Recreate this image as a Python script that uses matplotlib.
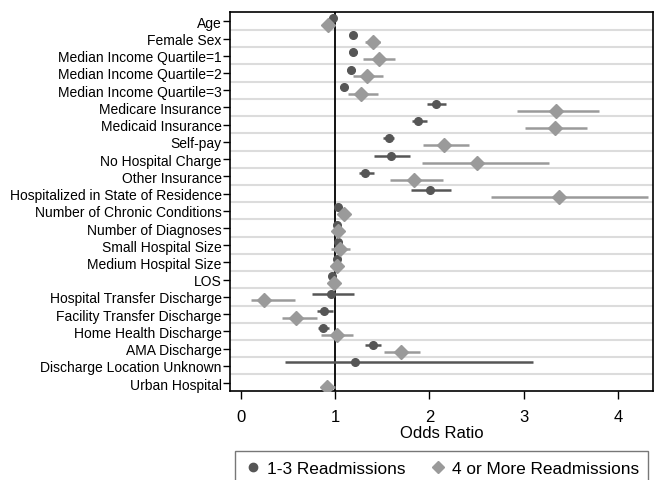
import numpy as np
import matplotlib
matplotlib.use("Agg")
import matplotlib.pyplot as plt
from matplotlib.lines import Line2D

plt.rcParams['font.family'] = ['Liberation Sans', 'DejaVu Sans']

labels = ["Age", "Female Sex", "Median Income Quartile=1", "Median Income Quartile=2",
          "Median Income Quartile=3", "Medicare Insurance", "Medicaid Insurance", "Self-pay",
          "No Hospital Charge", "Other Insurance", "Hospitalized in State of Residence",
          "Number of Chronic Conditions", "Number of Diagnoses", "Small Hospital Size",
          "Medium Hospital Size", "LOS", "Hospital Transfer Discharge",
          "Facility Transfer Discharge", "Home Health Discharge", "AMA Discharge",
          "Discharge Location Unknown", "Urban Hospital"]

# 1-3 readmissions: odds ratio and 95% CI
or_low = [0.975, 1.19, 1.19, 1.17, 1.09, 2.07, 1.88, 1.57, 1.59, 1.32, 2.01,
          1.035, 1.02, 1.035, 1.02, 0.97, 0.96, 0.88, 0.87, 1.40, 1.21, np.nan]
lo_low = [0.96, 1.16, 1.15, 1.13, 1.05, 1.98, 1.82, 1.51, 1.41, 1.25, 1.81,
          1.02, 1.01, 1.00, 1.00, 0.96, 0.75, 0.81, 0.82, 1.32, 0.47, np.nan]
hi_low = [0.99, 1.22, 1.23, 1.21, 1.13, 2.18, 1.98, 1.63, 1.80, 1.41, 2.23,
          1.05, 1.03, 1.07, 1.04, 0.98, 1.20, 0.98, 0.94, 1.49, 3.10, np.nan]

# 4 or more readmissions
or_high = [0.92, 1.40, 1.47, 1.34, 1.27, 3.34, 3.33, 2.16, 2.51, 1.84, 3.38,
           1.09, 1.035, 1.05, 1.02, 0.99, 0.25, 0.59, 1.02, 1.70, np.nan, 0.91]
lo_high = [0.89, 1.32, 1.30, 1.19, 1.14, 2.93, 3.01, 1.93, 1.92, 1.58, 2.65,
           1.07, 1.02, 0.96, 0.99, 0.98, 0.11, 0.44, 0.85, 1.52, np.nan, 0.85]
hi_high = [0.95, 1.48, 1.64, 1.51, 1.45, 3.80, 3.67, 2.42, 3.27, 2.15, 4.32,
           1.11, 1.05, 1.16, 1.06, 1.00, 0.57, 0.81, 1.19, 1.90, np.nan, 1.00]

dark = "#565656"
light = "#9a9a9a"

fig = plt.figure(figsize=(6.54, 4.81), dpi=100)
ax = fig.add_axes([0.352, 0.185, 0.646, 0.788])

y = np.arange(len(labels))
for i in range(len(labels) - 1):
    ax.axhline(i + 0.5, color="#dcdcdc", lw=1.5, zorder=0)
ax.axvline(1, color="black", lw=1.3, zorder=1)

def draw(est, lo, hi, off, color, marker, ms):
    est = np.array(est); lo = np.array(lo); hi = np.array(hi)
    err = np.vstack([est - lo, hi - est])
    ax.errorbar(est, y + off, xerr=err, fmt=marker, color=color, ecolor=color,
                elinewidth=1.8, ms=ms, capsize=0, zorder=3)

draw(or_low, lo_low, hi_low, -0.2, dark, "o", 5.5)
draw(or_high, lo_high, hi_high, 0.2, light, "D", 7)

ax.set_yticks(y)
ax.set_yticklabels(labels, fontsize=10)
ax.set_ylim(21.46, -0.54)
ax.set_xlim(-0.113, 4.37)
ax.set_xticks([0, 1, 2, 3, 4])
ax.tick_params(axis="x", labelsize=12, length=6, width=1, pad=7)
ax.tick_params(axis="y", length=5, width=1, pad=1)
ax.set_xlabel("Odds Ratio", fontsize=12, labelpad=1)
for s in ax.spines.values():
    s.set_linewidth(1.2)

handles = [Line2D([], [], marker="o", color=dark, ls="none", ms=6),
           Line2D([], [], marker="D", color=light, ls="none", ms=6)]
fig.legend(handles, ["1-3 Readmissions", "4 or More Readmissions"], ncol=2,
           loc="upper left", bbox_to_anchor=(235 / 654, 1 - 452 / 481),
           fontsize=12.4, frameon=True, fancybox=False, edgecolor="#555555",
           handletextpad=0.3, columnspacing=1.4, handlelength=1.0, borderaxespad=0,
           borderpad=0.55)

fig.savefig("out.png", dpi=100)
